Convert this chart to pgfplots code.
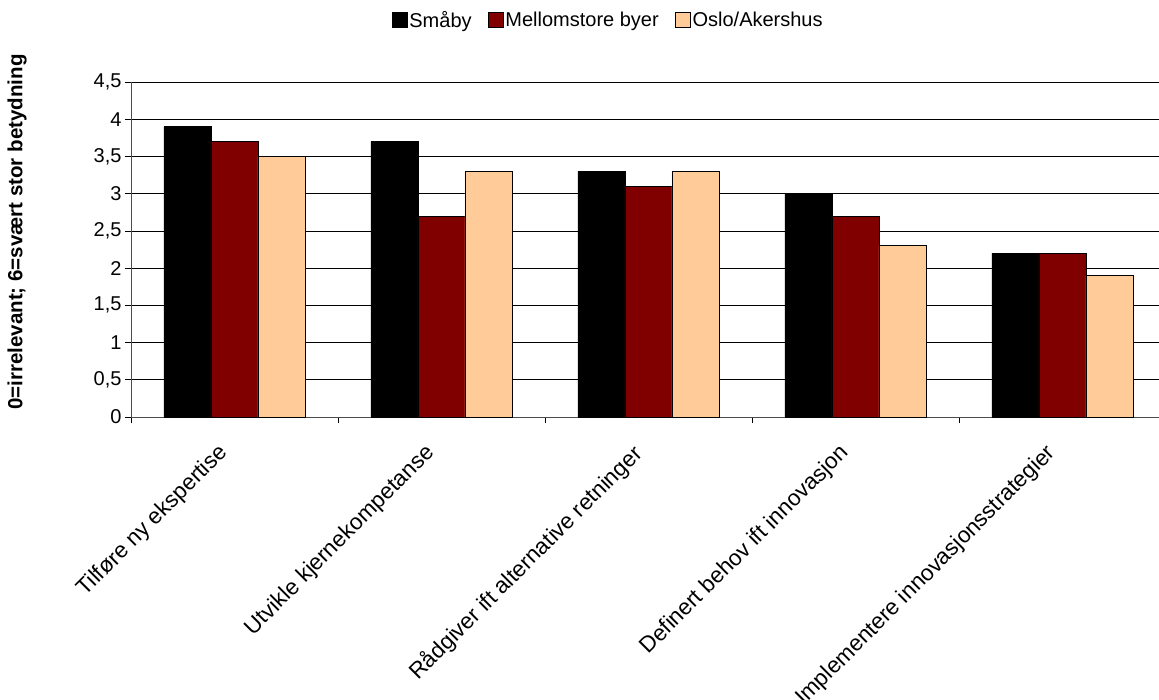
\documentclass[border=0pt]{standalone}
\usepackage{fontspec}
\setmainfont{Liberation Sans}
\usepackage{pgfplots}
\pgfplotsset{compat=1.18}
\definecolor{smaby}{HTML}{000000}
\definecolor{mellom}{HTML}{800000}
\definecolor{oslo}{HTML}{FFCC99}
\begin{document}
\begin{tikzpicture}
\path[use as bounding box] (-131bp,-283bp) rectangle (1028bp,417bp);
\begin{axis}[
    at={(0,0)}, anchor=south west,
    scale only axis,
    width=1035bp, height=335bp,
    ybar=0pt, bar width=47bp,
    xmin=-0.5, xmax=4.5,
    ymin=0, ymax=4.5,
    ytick={0,0.5,...,4.5},
    xtick={0,1,2,3,4},
    xticklabels={Tilføre ny ekspertise, Utvikle kjernekompetanse, Rådgiver ift alternative retninger, Definert behov ift innovasjon, Implementere innovasjonsstrategier},
    minor xtick={-0.5,0.5,1.5,2.5,3.5,4.5},
    major x tick style={draw=none},
    minor tick length=6bp, major tick length=6bp,
    tick align=outside,
    axis x line*=bottom, axis y line*=left,
    axis line style={gray!60!black, line width=0.8bp},
    ymajorgrids, major grid style={black, line width=0.6bp},
    tick style={black, line width=0.6bp},
    yticklabel style={/pgf/number format/.cd, use comma, fixed, precision=1, assume math mode=true},
    tick label style={font=\fontsize{20bp}{24bp}\selectfont},
    xticklabel style={font=\fontsize{22.5bp}{26bp}\selectfont, rotate=45, anchor=north east, inner sep=1bp, xshift=-25bp, yshift=0bp},
    ylabel={0=irrelevant; 6=svært stor betydning},
    ylabel style={at={(axis description cs:-0.11,0.552)}, anchor=center, font=\bfseries\fontsize{20.5bp}{24bp}\selectfont},
    legend columns=3,
    legend style={at={(axis description cs:0.461,1.185)}, anchor=center, draw=none,
        font=\fontsize{20bp}{24bp}\selectfont, /tikz/every even column/.append style={column sep=14bp}},
    legend image code/.code={\draw[#1, draw=black, line width=0.8bp] (0bp,-7bp) rectangle (15bp,8bp);},
    every axis plot/.append style={draw=black, line width=0.8bp},
]
\addplot[fill=smaby] coordinates {(0,3.9) (1,3.7) (2,3.3) (3,3.0) (4,2.2)};
\addplot[fill=mellom] coordinates {(0,3.7) (1,2.7) (2,3.1) (3,2.7) (4,2.2)};
\addplot[fill=oslo] coordinates {(0,3.5) (1,3.3) (2,3.3) (3,2.3) (4,1.9)};
\legend{Småby, Mellomstore byer, Oslo/Akershus}
\end{axis}
\end{tikzpicture}
\end{document}
